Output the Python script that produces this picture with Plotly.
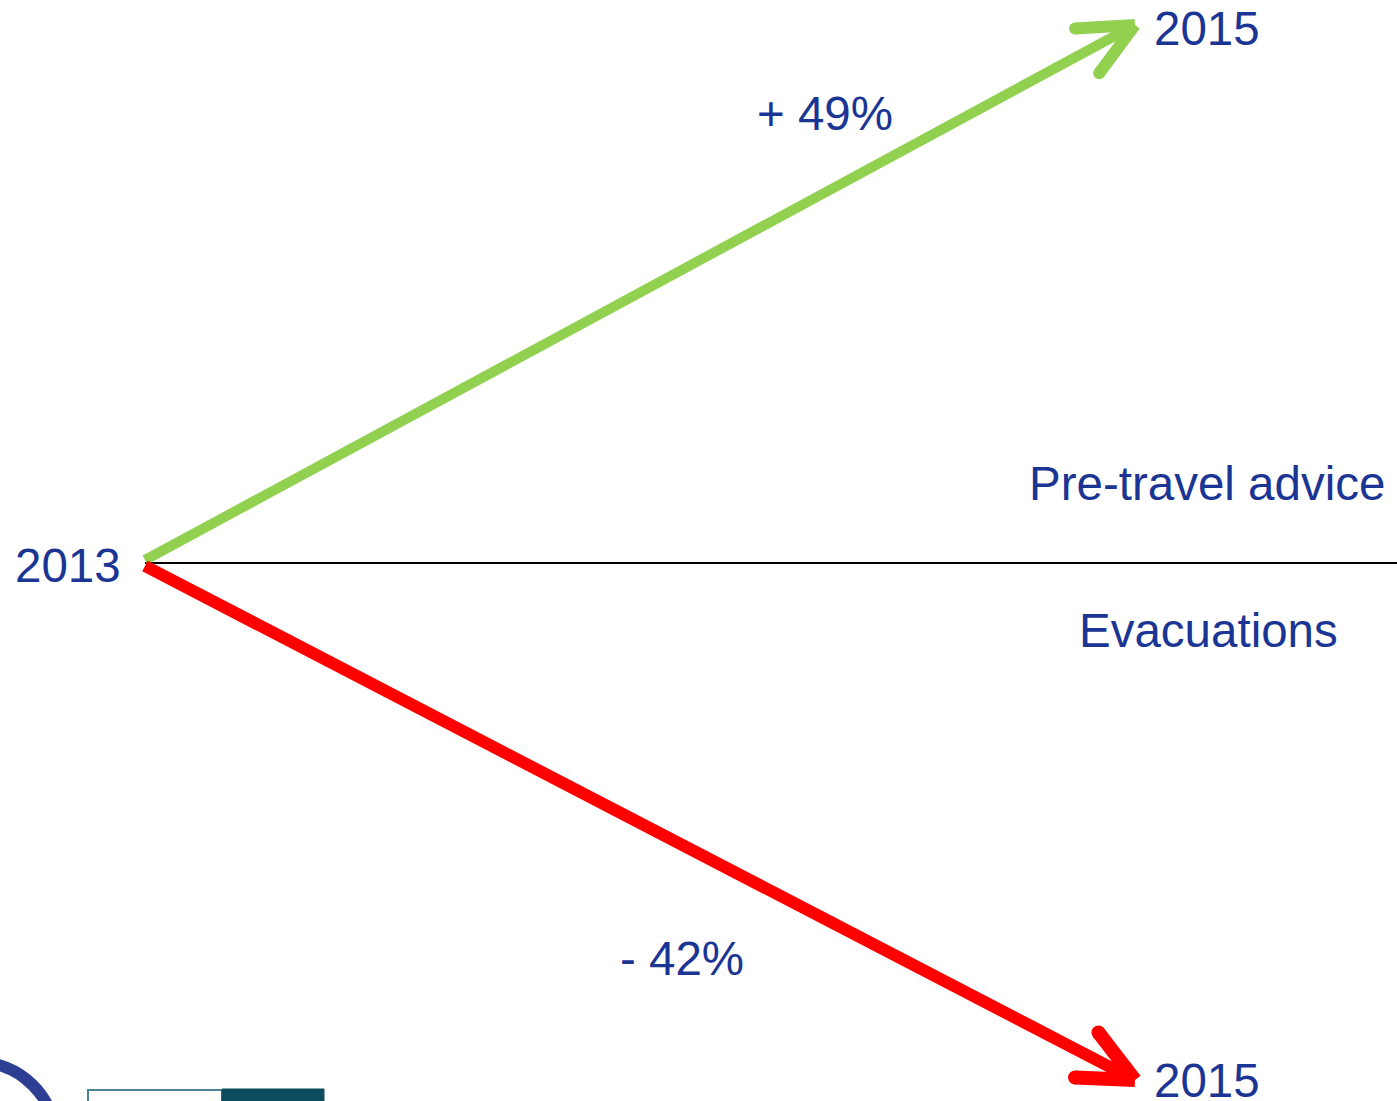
import math
import plotly.graph_objects as go

# ---- data ----
years = ["2013", "2015"]
series = ["Pre-travel advice", "Evacuations"]
change_pct = [49, -42]
series_colors = ["#92d050", "#ff0000"]
line_widths = [10, 12]

# ---- layout constants (pixel space) ----
W, H = 1397, 1101
TEXT = "#1b3594"
FONT = "Liberation Sans, Arial, sans-serif"
FS = 47.5
origin = (145, 563)
x_span = 990          # pixel distance from 2013 to 2015
up_span, down_span = 538, 517
start_offsets = [-3, 3]
label_pos = [(825, 113), (682, 958)]
series_label_pos = [(1387, 483, "right"), (1208, 630, "center")]

fig = go.Figure()

# baseline
fig.add_trace(go.Scatter(x=[origin[0], W], y=[origin[1], origin[1]], mode="lines",
                         line=dict(color="black", width=2), hoverinfo="skip", showlegend=False))

for i, (name, pct, col, lw) in enumerate(zip(series, change_pct, series_colors, line_widths)):
    sx, sy = origin[0], origin[1] + start_offsets[i]
    tx = origin[0] + x_span
    ty = origin[1] - up_span if pct > 0 else origin[1] + down_span
    # shaft
    fig.add_trace(go.Scatter(x=[sx, tx], y=[sy, ty], mode="lines",
                             line=dict(color=col, width=lw), hoverinfo="skip", showlegend=False))
    # chevron arrowhead
    ang = math.atan2(sy - ty, sx - tx)
    L = 60
    for d in (math.radians(25), -math.radians(25)):
        ex = tx + L * math.cos(ang + d)
        ey = ty + L * math.sin(ang + d)
        fig.add_trace(go.Scatter(x=[ex, tx], y=[ey, ty], mode="lines",
                                 line=dict(color=col, width=lw + 2), hoverinfo="skip", showlegend=False))
        fig.add_trace(go.Scatter(x=[ex], y=[ey], mode="markers",
                                 marker=dict(color=col, size=lw + 2, line=dict(width=0)),
                                 hoverinfo="skip", showlegend=False))
    # year label at tip
    fig.add_annotation(x=tx + 72, y=ty + (3 if pct > 0 else 0), text=years[1], showarrow=False,
                       font=dict(size=FS, color=TEXT, family=FONT), xanchor="center", yanchor="middle")
    # percent label
    lx, ly = label_pos[i]
    sign = "+" if pct > 0 else "-"
    fig.add_annotation(x=lx, y=ly, text=f"{sign} {abs(pct)}%", showarrow=False,
                       font=dict(size=FS, color=TEXT, family=FONT), xanchor="center", yanchor="middle")
    # series label
    px, py, anc = series_label_pos[i]
    fig.add_annotation(x=px, y=py, text=name, showarrow=False,
                       font=dict(size=FS, color=TEXT, family=FONT), xanchor=anc, yanchor="middle")

fig.add_annotation(x=68, y=565, text=years[0], showarrow=False,
                   font=dict(size=FS, color=TEXT, family=FONT), xanchor="center", yanchor="middle")

# partial logos at bottom-left
fig.add_shape(type="circle", x0=-102, y0=1062, x1=56, y1=1220,
              line=dict(color="#2e3f93", width=12), layer="below")
fig.add_shape(type="rect", x0=88, y0=1090, x1=222, y1=1130,
              line=dict(color="#4d8290", width=2), fillcolor="white")
fig.add_shape(type="rect", x0=222, y0=1089, x1=324, y1=1130,
              line=dict(color="#0d4c5e", width=1), fillcolor="#0d4c5e")

fig.update_xaxes(range=[0, W], visible=False, fixedrange=True)
fig.update_yaxes(range=[H, 0], visible=False, fixedrange=True)
fig.update_layout(width=W, height=H, margin=dict(l=0, r=0, t=0, b=0),
                  plot_bgcolor="white", paper_bgcolor="white", showlegend=False)

fig.write_html("out.html", config={"displayModeBar": False},
               post_script="document.body.style.margin='0';")
